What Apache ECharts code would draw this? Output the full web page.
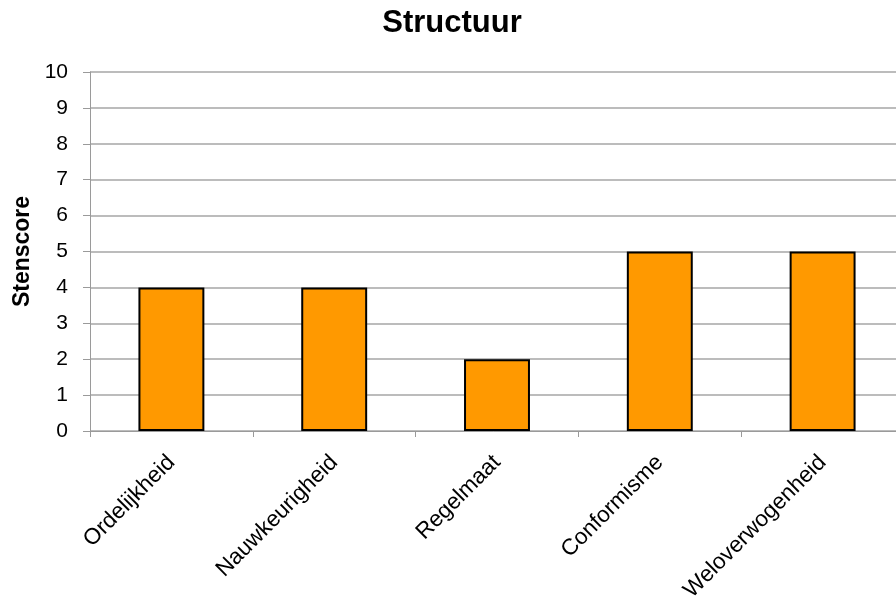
<!DOCTYPE html>
<html>
<head>
<meta charset="utf-8">
<script src="https://cdn.jsdelivr.net/npm/echarts@6/dist/echarts.min.js"></script>
<style>
  html, body { margin: 0; padding: 0; background: #fff; }
  #chart { width: 896px; height: 602px; }
</style>
</head>
<body>
<div id="chart"></div>
<script>
// Stenscores per facet of "Structuur"
const categories = ['Ordelijkheid', 'Nauwkeurigheid', 'Regelmaat', 'Conformisme', 'Weloverwogenheid'];
const scores = [4, 4, 2, 5, 5];
const yTicks = [0, 1, 2, 3, 4, 5, 6, 7, 8, 9, 10];

const FONT = 'Liberation Sans, Arial, sans-serif';

const chart = echarts.init(document.getElementById('chart'));
chart.setOption({
  animation: false,
  backgroundColor: '#ffffff',
  title: {
    text: 'Structuur',
    left: 447,
    top: 3,
    textAlign: 'center',
    textStyle: { fontFamily: FONT, fontSize: 31, fontWeight: 'bold', color: '#000' }
  },
  grid: { left: 90, right: -8, top: 72, bottom: 171, containLabel: false, outerBoundsMode: 'none' },
  xAxis: {
    type: 'category',
    data: categories,
    axisLine: { lineStyle: { color: '#9a9a9a', width: 1 } },
    axisTick: { show: true, alignWithLabel: false, length: 6, lineStyle: { color: '#9a9a9a' } },
    axisLabel: {
      rotate: 45,
      margin: 28,
      interval: 0,
      fontFamily: FONT,
      fontSize: 22.5,
      color: '#000'
    }
  },
  yAxis: {
    type: 'value',
    min: yTicks[0],
    max: yTicks[yTicks.length - 1],
    interval: 1,
    name: 'Stenscore',
    nameLocation: 'middle',
    nameGap: 55,
    nameRotate: 90,
    nameTextStyle: { fontFamily: FONT, fontSize: 23, fontWeight: 'bold', color: '#000' },
    axisLine: { show: true, lineStyle: { color: '#9a9a9a', width: 1 } },
    axisTick: { show: true, inside: false, length: 7, lineStyle: { color: '#9a9a9a' } },
    axisLabel: {
      margin: 22,
      fontFamily: FONT,
      fontSize: 21,
      color: '#000'
    },
    splitLine: { show: true, lineStyle: { color: '#a6a6a6', width: 1.5 } }
  },
  series: [{
    type: 'bar',
    data: scores,
    barWidth: '40.5%',
    itemStyle: { color: '#FF9900', borderColor: '#000', borderWidth: 2 }
  }]
});
</script>
</body>
</html>
